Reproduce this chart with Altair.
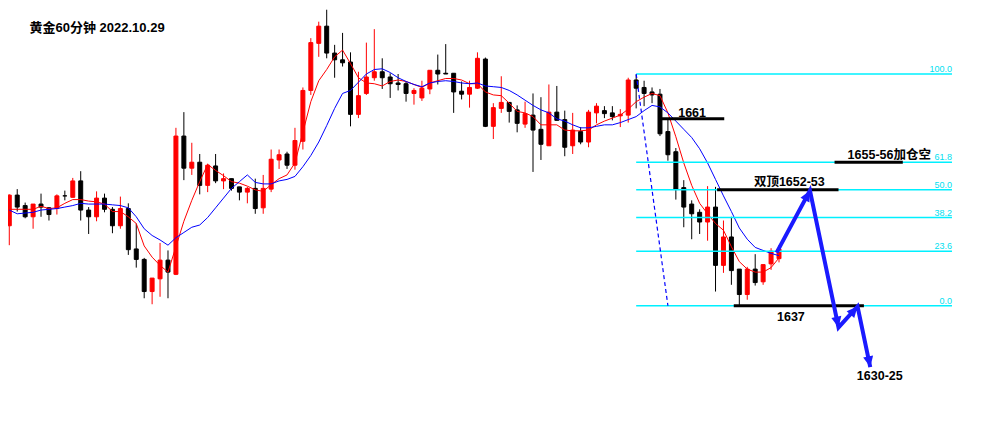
import altair as alt
import pandas as pd

# ---------------- data ----------------
TITLE = "黄金60分钟 2022.10.29"

OPEN = [
    1647.7, 1651.8, 1650.4, 1648.9, 1650.6, 1650.1, 1650.0, 1651.7, 1651.5, 1653.7,
    1649.8, 1648.9, 1651.4, 1649.9, 1647.7, 1650.0, 1644.6, 1643.2, 1638.9, 1640.6,
    1643.1, 1641.2, 1659.7, 1655.4, 1656.2, 1653.1, 1655.7, 1653.7, 1654.0, 1652.9,
    1652.2, 1652.7, 1650.1, 1652.6, 1656.5, 1657.3, 1655.8, 1659.0, 1665.8, 1672.1,
    1674.4, 1670.8, 1669.9, 1669.6, 1662.6, 1665.4, 1667.5, 1668.3, 1667.6, 1666.8,
    1666.7, 1665.4, 1664.8, 1666.0, 1668.5, 1668.1, 1668.1, 1665.7, 1665.3, 1666.1,
    1670.0, 1661.0, 1663.4, 1664.2, 1663.2, 1661.3, 1662.5, 1660.6, 1658.4, 1662.9,
    1661.9, 1658.4, 1660.3, 1658.9, 1662.8, 1663.1, 1662.8, 1662.4, 1662.5, 1667.2,
    1666.2, 1665.6, 1665.3, 1660.3, 1657.6, 1652.8, 1650.6, 1649.5, 1648.2, 1650.2,
    1642.4, 1646.2, 1641.9, 1638.5, 1641.9, 1640.2, 1642.6, 1643.3]
HIGH = [
    1651.9, 1652.6, 1650.8, 1650.6, 1652.0, 1650.2, 1651.9, 1652.4, 1654.1, 1655.0,
    1650.2, 1652.3, 1652.0, 1650.2, 1651.6, 1650.7, 1648.0, 1643.4, 1640.7, 1645.4,
    1644.4, 1660.8, 1662.9, 1658.8, 1657.3, 1656.0, 1657.3, 1654.7, 1654.0, 1652.9,
    1652.9, 1654.0, 1654.5, 1657.9, 1657.9, 1657.6, 1660.8, 1666.2, 1672.8, 1675.0,
    1676.6, 1671.9, 1673.5, 1670.9, 1668.3, 1672.2, 1674.0, 1670.1, 1668.1, 1668.0,
    1667.0, 1666.1, 1667.1, 1668.5, 1670.6, 1672.0, 1668.1, 1667.0, 1667.1, 1670.9,
    1670.2, 1664.1, 1667.7, 1664.2, 1663.8, 1664.3, 1665.4, 1664.9, 1666.6, 1666.4,
    1663.1, 1662.8, 1660.9, 1663.2, 1664.1, 1663.7, 1663.7, 1663.3, 1667.5, 1667.9,
    1667.1, 1666.2, 1666.0, 1661.9, 1658.1, 1653.8, 1651.1, 1649.9, 1653.0, 1652.9,
    1648.4, 1648.9, 1641.9, 1642.2, 1643.9, 1642.5, 1644.7, 1645.1]
LOW = [
    1645.1, 1649.6, 1648.7, 1647.3, 1648.9, 1648.4, 1649.2, 1651.1, 1651.5, 1648.4,
    1646.6, 1648.3, 1649.5, 1646.7, 1647.3, 1643.8, 1642.1, 1638.0, 1637.2, 1638.2,
    1638.0, 1641.1, 1653.8, 1654.5, 1651.9, 1652.2, 1653.4, 1652.6, 1652.4, 1651.1,
    1650.7, 1649.3, 1649.3, 1652.2, 1655.3, 1655.3, 1655.2, 1657.9, 1665.2, 1670.3,
    1670.1, 1667.5, 1669.0, 1661.0, 1662.1, 1665.2, 1667.1, 1666.0, 1664.8, 1665.8,
    1664.3, 1663.9, 1664.4, 1665.3, 1666.6, 1668.0, 1662.8, 1664.6, 1663.5, 1666.0,
    1660.9, 1659.3, 1662.8, 1661.5, 1660.2, 1660.8, 1654.9, 1656.5, 1658.4, 1661.8,
    1657.0, 1657.3, 1658.6, 1658.2, 1661.4, 1662.1, 1661.8, 1660.9, 1661.5, 1663.4,
    1663.7, 1664.1, 1659.7, 1656.4, 1651.2, 1647.5, 1645.9, 1646.6, 1645.7, 1638.9,
    1641.4, 1639.8, 1637.1, 1637.8, 1639.7, 1639.8, 1641.8, 1642.8]
CLOSE = [
    1651.8, 1650.2, 1648.9, 1650.6, 1650.2, 1649.2, 1651.7, 1651.7, 1653.7, 1649.8,
    1648.9, 1651.4, 1649.9, 1647.7, 1650.0, 1644.5, 1643.2, 1638.9, 1640.7, 1643.1,
    1641.5, 1659.7, 1655.4, 1656.2, 1653.1, 1655.8, 1653.7, 1654.0, 1652.7, 1652.2,
    1652.7, 1650.0, 1652.7, 1656.6, 1657.2, 1655.8, 1659.1, 1665.8, 1672.2, 1674.4,
    1670.8, 1669.9, 1669.5, 1662.6, 1665.1, 1667.6, 1668.3, 1667.5, 1666.7, 1666.6,
    1665.4, 1665.8, 1666.1, 1668.5, 1668.0, 1668.0, 1665.6, 1665.3, 1666.2, 1670.1,
    1661.0, 1663.5, 1664.2, 1663.0, 1661.4, 1662.7, 1660.5, 1658.6, 1662.9, 1661.8,
    1658.2, 1660.5, 1658.9, 1662.9, 1663.7, 1662.7, 1662.3, 1662.6, 1667.2, 1666.1,
    1665.4, 1665.2, 1660.0, 1657.2, 1652.6, 1650.2, 1649.3, 1648.2, 1650.2, 1642.4,
    1646.2, 1641.7, 1638.5, 1641.9, 1640.1, 1642.5, 1644.3, 1644.6]

MA_FAST = [
    1649.9, 1649.9, 1649.9, 1649.9, 1650.3, 1650.0, 1650.1, 1650.7, 1651.2, 1651.2,
    1651.0, 1650.9, 1650.6, 1649.6, 1649.6, 1648.9, 1648.0, 1645.0, 1643.5, 1642.4,
    1641.5, 1644.9, 1648.3, 1651.1, 1653.6, 1655.9, 1655.1, 1654.4, 1653.6, 1653.4,
    1653.0, 1652.5, 1652.3, 1653.2, 1654.0, 1654.5, 1656.1, 1660.2, 1664.3, 1667.1,
    1668.6, 1670.3, 1671.2, 1669.4, 1667.5, 1666.8, 1666.7, 1666.4, 1667.0, 1667.2,
    1667.0, 1666.6, 1666.2, 1666.8, 1667.1, 1667.4, 1667.4, 1667.2, 1666.7, 1666.7,
    1665.6, 1665.2, 1665.1, 1664.1, 1663.0, 1662.8, 1662.3, 1661.2, 1661.2, 1661.2,
    1660.5, 1660.4, 1660.4, 1660.5, 1661.2, 1661.7, 1662.1, 1662.5, 1663.3, 1664.3,
    1664.9, 1665.4, 1665.1, 1662.8, 1659.6, 1656.1, 1653.1, 1650.7, 1649.3, 1648.0,
    1647.1, 1644.9, 1642.9, 1641.9, 1641.5, 1641.5, 1642.1, 1643.4]
MA_SLOW = [
    1649.8, 1649.3, 1649.4, 1649.5, 1649.8, 1649.9, 1650.0, 1650.2, 1650.4, 1650.7,
    1650.6, 1650.6, 1650.6, 1650.5, 1650.4, 1650.1, 1648.9, 1647.3, 1646.4, 1645.8,
    1645.1, 1646.1, 1646.8, 1647.5, 1647.8, 1648.8, 1650.1, 1651.4, 1652.7, 1653.6,
    1654.5, 1653.5, 1653.3, 1653.3, 1653.7, 1653.9, 1654.3, 1655.6, 1657.1, 1658.9,
    1661.1, 1663.4, 1665.4, 1665.8, 1666.9, 1668.0, 1668.6, 1668.7, 1668.2, 1667.5,
    1667.0, 1666.6, 1666.3, 1666.8, 1667.0, 1667.1, 1667.0, 1666.8, 1666.7, 1666.8,
    1666.4, 1666.3, 1666.2, 1665.8, 1665.2, 1664.5, 1663.8, 1663.2, 1662.8, 1662.0,
    1661.7, 1661.2, 1660.8, 1660.8, 1661.0, 1661.2, 1661.2, 1661.5, 1661.9, 1662.3,
    1663.1, 1663.8, 1663.6, 1662.8, 1661.7, 1660.6, 1659.5, 1658.0, 1656.1, 1653.9,
    1651.7, 1649.6, 1647.4, 1645.9, 1644.8, 1644.4, 1644.0, 1643.7]

FIB_LABELS = ["100.0", "61.8", "50.0", "38.2", "23.6", "0.0"]
FIB_PRICES = [1668.0, 1656.2, 1652.5, 1648.8, 1644.3, 1637.0]
FIB_FROM, FIB_TO = 79.0, 118.8          # candle index span of the fib lines

# horizontal black key levels: start index, end index, price
LEVEL_FROM = [82.0, 104.0, 89.2, 91.3]
LEVEL_TO = [90.1, 112.6, 104.5, 107.7]
LEVEL_PRICE = [1662.0, 1656.2, 1652.5, 1637.0]

NOTE_TEXT = ["1661", "1655-56加仓空", "双顶1652-53", "1637", "1630-25"]
NOTE_I = [86.05, 110.9, 98.3, 98.5, 109.7]
NOTE_P = [1662.8, 1657.1, 1653.5, 1635.5, 1627.6]

# dashed projection line (index, price)
DASH_I = [79.0, 83.0]
DASH_P = [1668.0, 1637.0]

# projected path (index, price)
PATH_I = [96.7, 100.9, 104.5, 106.9, 108.5]
PATH_P = [1644.1, 1652.4, 1634.1, 1636.9, 1628.8]

# ---------------- styles ----------------
RED = "#ff0000"
BLACK = "#000000"
CYAN = "#00f0ff"
BLUE = "#0000ff"
ARROW = "#1a1aff"
HEAD_ANGLES = [27.7, 168.4, 41.4, 168.6]
FONT = "Liberation Sans, Arial, Noto Sans CJK SC"

xs = alt.Scale(domain=[-0.1625, 122.96], nice=False, zero=False)
ys = alt.Scale(domain=[1623.32, 1676.83], nice=False, zero=False)


def X(f):
    return alt.X(f, type="quantitative", scale=xs, axis=None)


def Y(f):
    return alt.Y(f, type="quantitative", scale=ys, axis=None)


dir_scale = alt.Scale(domain=["up", "down"], range=[RED, BLACK])

candles = pd.DataFrame({"i": list(range(len(OPEN))), "o": OPEN, "h": HIGH, "l": LOW, "c": CLOSE})
cbase = alt.Chart(candles).transform_calculate(
    dir="datum.c > datum.o ? 'up' : 'down'",
    xl="datum.i - 0.25",
    xr="datum.i + 0.25",
    top="max(datum.o, datum.c)",
    bot="min(datum.o, datum.c)",
)

wicks = cbase.mark_rule(strokeWidth=1).encode(
    x=X("i"), y=Y("l"), y2="h:Q",
    color=alt.Color("dir:N", scale=dir_scale, legend=None),
)
bodies = cbase.mark_rect(strokeWidth=1).encode(
    x=X("xl"), x2="xr:Q", y=Y("bot"), y2="top:Q",
    color=alt.Color("dir:N", scale=dir_scale, legend=None),
    stroke=alt.Stroke("dir:N", scale=dir_scale, legend=None),
)

ma = pd.DataFrame({"i": list(range(len(MA_FAST))), "fast": MA_FAST, "slow": MA_SLOW})
ma_fast = alt.Chart(ma).mark_line(color=RED, strokeWidth=1).encode(x=X("i"), y=Y("fast"))
ma_slow = alt.Chart(ma).mark_line(color=BLUE, strokeWidth=1).encode(x=X("i"), y=Y("slow"))

fib = pd.DataFrame({"lab": FIB_LABELS, "p": FIB_PRICES,
                    "x0": [FIB_FROM] * len(FIB_PRICES), "x1": [FIB_TO] * len(FIB_PRICES)})
fib_lines = alt.Chart(fib).mark_rule(color=CYAN, strokeWidth=1.5).encode(
    x=X("x0"), x2="x1:Q", y=Y("p"))
fib_text = alt.Chart(fib).mark_text(
    align="right", baseline="alphabetic", dy=-2, fontSize=9, color="#00e0f0", font=FONT
).encode(x=X("x1"), y=Y("p"), text="lab:N")

dash = pd.DataFrame({"i": DASH_I, "p": DASH_P})
dash_line = alt.Chart(dash).mark_line(color=BLUE, strokeWidth=1.2, strokeDash=[4, 3]).encode(
    x=X("i"), y=Y("p"))

levels = pd.DataFrame({"x0": LEVEL_FROM, "x1": LEVEL_TO, "p": LEVEL_PRICE})
level_lines = alt.Chart(levels).mark_rule(color=BLACK, strokeWidth=3).encode(
    x=X("x0"), x2="x1:Q", y=Y("p"))

notes = pd.DataFrame({"t": NOTE_TEXT, "i": NOTE_I, "p": NOTE_P})
note_text = alt.Chart(notes).mark_text(
    align="center", baseline="middle", fontSize=12.5, fontWeight="bold", color=BLACK, font=FONT
).encode(x=X("i"), y=Y("p"), text="t:N")

path = pd.DataFrame({"k": list(range(len(PATH_I))), "i": PATH_I, "p": PATH_P})
path_line = alt.Chart(path).mark_line(color=ARROW, strokeWidth=4, strokeJoin="miter").encode(
    x=X("i"), y=Y("p"), order="k:Q")
heads = pd.DataFrame({"i": PATH_I[1:], "p": PATH_P[1:], "ang": HEAD_ANGLES})
path_heads = alt.Chart(heads).mark_point(
    shape="M0,0 L-0.8,1.7 L0.8,1.7 Z", filled=True, size=160, color=ARROW, opacity=1
).encode(x=X("i"), y=Y("p"), angle=alt.Angle("ang:Q", scale=None))

title = alt.Chart(pd.DataFrame({"t": [TITLE]})).mark_text(
    align="left", baseline="middle", fontSize=13, fontWeight="bold", color=BLACK, font=FONT
).encode(x=alt.value(21.5), y=alt.value(20), text="t:N")

chart = alt.layer(
    wicks, bodies, ma_fast, ma_slow, fib_lines, fib_text, dash_line,
    level_lines, note_text, path_line, path_heads, title
).properties(
    width=977, height=400, padding=0, autosize="none", background="white"
).configure_view(strokeWidth=0)

chart.save("out.html", embed_options={"renderer": "svg", "actions": False})
